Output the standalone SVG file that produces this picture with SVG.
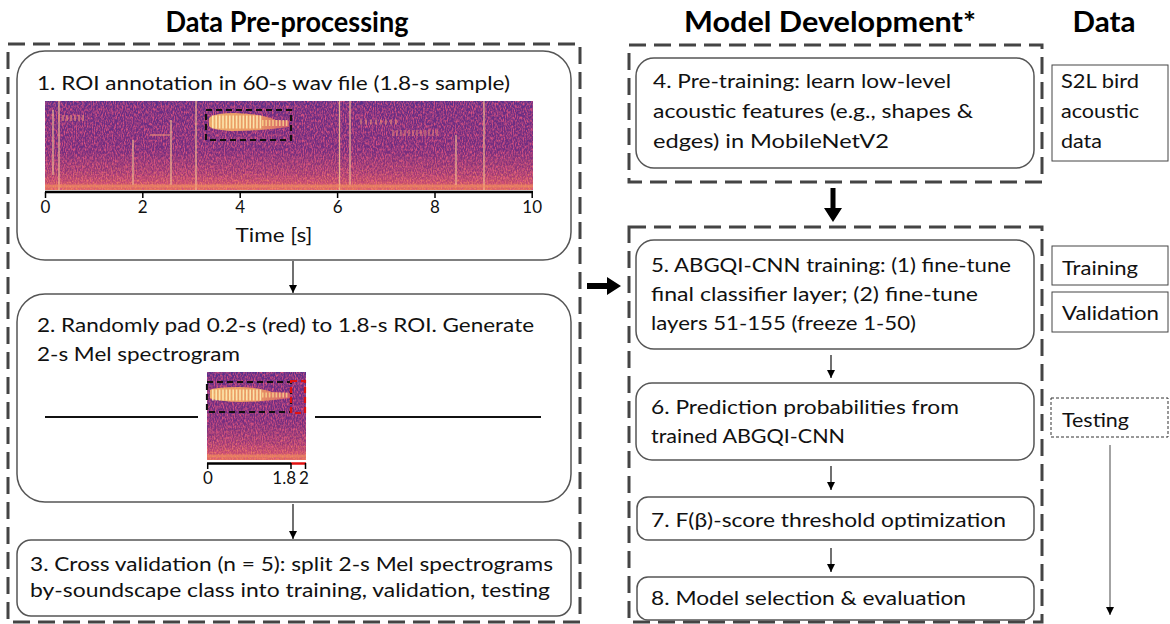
<svg xmlns="http://www.w3.org/2000/svg" width="1170" height="624" viewBox="0 0 1170 624">
<defs>
<style>
.t{font-family:"Lato","Open Sans","Liberation Sans",sans-serif;font-size:19.5px;fill:#111}
.h{font-family:"Lato","Open Sans","Liberation Sans",sans-serif;font-size:28px;font-weight:bold;fill:#000}
.tk{font-family:"Lato","Open Sans","Liberation Sans",sans-serif;font-size:17px;fill:#111}
.dash{fill:none;stroke:#444;stroke-width:3;stroke-dasharray:17 8}
.box{fill:#fff;stroke:#555;stroke-width:1.5}
.dbox{fill:#fff;stroke:#444;stroke-width:1}
.ln{stroke:#111;stroke-width:1.2;fill:none}
.roi{fill:none;stroke:#111;stroke-width:2.2;stroke-dasharray:6 4}
.roir{fill:none;stroke:#e01010;stroke-width:2.2;stroke-dasharray:6 4}
.vl{stroke:#f6c490;stroke-width:1.3;opacity:.85}
</style>
<marker id="ah" viewBox="0 0 10 10" refX="10" refY="5" markerWidth="8" markerHeight="8" markerUnits="userSpaceOnUse" orient="auto">
<path d="M0,0 L10,5 L0,10 z" fill="#000"/>
</marker>
<linearGradient id="spg" x1="0" y1="0" x2="0" y2="1">
<stop offset="0" stop-color="#55308c"/>
<stop offset="0.08" stop-color="#682e84"/>
<stop offset="0.55" stop-color="#722e80"/>
<stop offset="0.8" stop-color="#923578"/>
<stop offset="0.92" stop-color="#bc486c"/>
<stop offset="1" stop-color="#e8785a"/>
</linearGradient>
<linearGradient id="lowfade" x1="0" y1="0" x2="0" y2="1">
<stop offset="0" stop-color="#fff" stop-opacity="0"/>
<stop offset="0.55" stop-color="#fff" stop-opacity="0"/>
<stop offset="1" stop-color="#fff" stop-opacity="1"/>
</linearGradient>
<mask id="lowmask" maskContentUnits="objectBoundingBox">
<rect x="0" y="0" width="1" height="1" fill="url(#lowfade)"/>
</mask>
<linearGradient id="blob" x1="0" y1="0" x2="1" y2="0">
<stop offset="0" stop-color="#f8b868"/>
<stop offset="0.6" stop-color="#f3a060"/>
<stop offset="1" stop-color="#d8606a"/>
</linearGradient>
<filter id="noise" x="0" y="0" width="100%" height="100%" color-interpolation-filters="sRGB">
<feTurbulence type="fractalNoise" baseFrequency="0.9 0.35" numOctaves="2" seed="4" result="n"/>
<feColorMatrix in="n" type="matrix" values="0 0 0 0 0.84  0 0 0 0 0.32  0 0 0 0 0.5  0 0 0 2.6 -1.0" result="c"/>
<feComposite in="c" in2="SourceGraphic" operator="in"/>
</filter>
<filter id="noise2" x="0" y="0" width="100%" height="100%" color-interpolation-filters="sRGB">
<feTurbulence type="fractalNoise" baseFrequency="0.8 0.5" numOctaves="2" seed="9" result="n"/>
<feColorMatrix in="n" type="matrix" values="0 0 0 0 0.96  0 0 0 0 0.5  0 0 0 0 0.4  0 0 0 3 -1.3" result="c"/>
<feComposite in="c" in2="SourceGraphic" operator="in"/>
</filter>
</defs>

<g id="titles">
<text class="h" x="287" y="32" text-anchor="middle" textLength="243" lengthAdjust="spacingAndGlyphs">Data Pre-processing</text>
<text class="h" x="830" y="32" text-anchor="middle" textLength="292" lengthAdjust="spacingAndGlyphs">Model Development*</text>
<text class="h" x="1104" y="32" text-anchor="middle" textLength="63" lengthAdjust="spacingAndGlyphs">Data</text>
</g>

<g id="groups">
<rect class="dash" x="8" y="44" width="572" height="578"/>
<rect class="dash" x="629" y="45" width="413" height="137"/>
<rect class="dash" x="629" y="227" width="413" height="395"/>
</g>

<g id="step1">
<rect class="box" x="17" y="51" width="554" height="209" rx="28"/>
<text class="t" x="37" y="90" textLength="473" lengthAdjust="spacingAndGlyphs">1. ROI annotation in 60-s wav file (1.8-s sample)</text>
<rect x="45" y="101" width="488" height="89" fill="url(#spg)"/>
<rect x="45" y="101" width="488" height="89" fill="#fff" filter="url(#noise)"/>
<g mask="url(#lowmask)"><rect x="45" y="101" width="488" height="89" fill="#fff" filter="url(#noise2)"/></g>
<g>
<line class="vl" x1="59" y1="101" x2="59" y2="190"/>
<line class="vl" x1="53" y1="110" x2="53" y2="175" opacity=".5"/>
<line class="vl" x1="196" y1="101" x2="196" y2="190"/>
<line class="vl" x1="133" y1="140" x2="133" y2="185" opacity=".4"/>
<line class="vl" x1="171" y1="120" x2="171" y2="185" opacity=".4"/>
<line class="vl" x1="339.5" y1="101" x2="339.5" y2="190" stroke-width="1.8"/>
<line class="vl" x1="350" y1="101" x2="350" y2="185"/>
<line class="vl" x1="484" y1="101" x2="484" y2="190"/>
<line class="vl" x1="456" y1="135" x2="456" y2="185" opacity=".4"/>
<line x1="58" y1="118" x2="85" y2="118" stroke="#e88a78" stroke-width="6" stroke-dasharray="2 2" opacity=".6"/>
<line x1="360" y1="122" x2="400" y2="122" stroke="#e88a78" stroke-width="5" stroke-dasharray="2 3" opacity=".6"/>
<line x1="392" y1="133" x2="440" y2="133" stroke="#e88a78" stroke-width="6" stroke-dasharray="2 2" opacity=".5"/>
<line x1="150" y1="135" x2="170" y2="135" stroke="#e88a78" stroke-width="2" opacity=".6"/>
<line x1="45" y1="186" x2="533" y2="186" stroke="#f09060" stroke-width="3" opacity=".6"/>
<path d="M209,118 Q214,113 235,113 Q262,114 276,120 L289,121 L289,127 Q260,131 232,131 Q212,130 209,126 z" fill="url(#blob)" opacity=".9"/>
<line x1="212" y1="122" x2="262" y2="122" stroke="#fff0b8" stroke-width="13" stroke-dasharray="1.6 1.8" opacity=".85"/>
<line x1="262" y1="123" x2="288" y2="123" stroke="#fbd890" stroke-width="6" stroke-dasharray="1.6 1.8" opacity=".8"/>
</g>
<rect class="roi" x="206" y="110" width="85" height="30"/>
<line x1="45" y1="192" x2="533" y2="192" stroke="#000" stroke-width="2.5"/>
<g stroke="#000" stroke-width="1.5">
<line x1="45.5" y1="192" x2="45.5" y2="198"/>
<line x1="142.8" y1="192" x2="142.8" y2="198"/>
<line x1="240.2" y1="192" x2="240.2" y2="198"/>
<line x1="337.6" y1="192" x2="337.6" y2="198"/>
<line x1="435" y1="192" x2="435" y2="198"/>
<line x1="532.2" y1="192" x2="532.2" y2="198"/>
</g>
<text class="tk" x="45.5" y="213" text-anchor="middle">0</text>
<text class="tk" x="142.8" y="213" text-anchor="middle">2</text>
<text class="tk" x="240.2" y="213" text-anchor="middle">4</text>
<text class="tk" x="337.6" y="213" text-anchor="middle">6</text>
<text class="tk" x="435" y="213" text-anchor="middle">8</text>
<text class="tk" x="532.2" y="213" text-anchor="middle">10</text>
<text class="t" x="274" y="242" text-anchor="middle" textLength="77" lengthAdjust="spacingAndGlyphs">Time [s]</text>
</g>

<g id="step2">
<rect class="box" x="17" y="294" width="554" height="208" rx="28"/>
<text class="t" x="37" y="332" textLength="497" lengthAdjust="spacingAndGlyphs">2. Randomly pad 0.2-s (red) to 1.8-s ROI. Generate</text>
<text class="t" x="37" y="361" textLength="203" lengthAdjust="spacingAndGlyphs">2-s Mel spectrogram</text>
<line x1="45" y1="417" x2="198" y2="417" stroke="#111" stroke-width="2"/>
<line x1="315" y1="417" x2="541" y2="417" stroke="#111" stroke-width="2"/>
<rect x="207" y="372" width="99" height="88" fill="url(#spg)"/>
<rect x="207" y="372" width="99" height="88" fill="#fff" filter="url(#noise)"/>
<g mask="url(#lowmask)"><rect x="207" y="372" width="99" height="88" fill="#fff" filter="url(#noise2)"/></g>
<path d="M210,390 Q215,387 240,387 Q262,388 272,392 L290,393 L290,398 Q262,402 240,402 Q215,401 210,398 z" fill="url(#blob)" opacity=".9"/>
<line x1="212" y1="395" x2="262" y2="395" stroke="#fff0b8" stroke-width="11" stroke-dasharray="1.6 1.8" opacity=".85"/>
<line x1="262" y1="395" x2="288" y2="395" stroke="#fbd890" stroke-width="5" stroke-dasharray="1.6 1.8" opacity=".8"/>
<line x1="207" y1="456" x2="306" y2="456" stroke="#f09060" stroke-width="3" opacity=".6"/>
<rect class="roi" x="207" y="382" width="84" height="30"/>
<rect class="roir" x="291" y="381" width="14" height="32"/>
<line x1="207" y1="463.5" x2="291" y2="463.5" stroke="#000" stroke-width="2.5"/>
<line x1="291" y1="463.5" x2="306" y2="463.5" stroke="#e01010" stroke-width="2.5"/>
<g stroke="#000" stroke-width="1.5">
<line x1="207.7" y1="463" x2="207.7" y2="469"/>
<line x1="291" y1="463" x2="291" y2="469"/>
<line x1="305.5" y1="463" x2="305.5" y2="469"/>
</g>
<text class="tk" x="208" y="484" text-anchor="middle" font-size="15">0</text>
<text class="tk" x="296" y="484" text-anchor="end" font-size="15">1.8</text>
<text class="tk" x="299" y="484" font-size="15">2</text>
</g>

<g id="step3">
<rect class="box" x="17" y="540" width="554" height="76" rx="14"/>
<text class="t" x="30" y="571" textLength="523" lengthAdjust="spacingAndGlyphs">3. Cross validation (n = 5): split 2-s Mel spectrograms</text>
<text class="t" x="30" y="597" textLength="520" lengthAdjust="spacingAndGlyphs">by-soundscape class into training, validation, testing</text>
</g>

<g id="step4">
<rect class="box" x="636" y="58" width="398" height="110" rx="18"/>
<text class="t" x="653" y="88" textLength="298" lengthAdjust="spacingAndGlyphs">4. Pre-training: learn low-level</text>
<text class="t" x="653" y="118" textLength="320" lengthAdjust="spacingAndGlyphs">acoustic features (e.g., shapes &amp;</text>
<text class="t" x="653" y="148" textLength="236" lengthAdjust="spacingAndGlyphs">edges) in MobileNetV2</text>
</g>

<g id="step5">
<rect class="box" x="636" y="240" width="398" height="109" rx="18"/>
<text class="t" x="651" y="272" textLength="360" lengthAdjust="spacingAndGlyphs">5. ABGQI-CNN training: (1) fine-tune</text>
<text class="t" x="651" y="301" textLength="327" lengthAdjust="spacingAndGlyphs">final classifier layer; (2) fine-tune</text>
<text class="t" x="651" y="330" textLength="265" lengthAdjust="spacingAndGlyphs">layers 51-155 (freeze 1-50)</text>
</g>

<g id="step6">
<rect class="box" x="636" y="383" width="398" height="77" rx="16"/>
<text class="t" x="651" y="414" textLength="308" lengthAdjust="spacingAndGlyphs">6. Prediction probabilities from</text>
<text class="t" x="651" y="443" textLength="194" lengthAdjust="spacingAndGlyphs">trained ABGQI-CNN</text>
</g>

<g id="step7">
<rect class="box" x="637" y="497" width="397" height="43" rx="11"/>
<text class="t" x="651" y="527" textLength="355" lengthAdjust="spacingAndGlyphs">7. F(β)-score threshold optimization</text>
</g>

<g id="step8">
<rect class="box" x="637" y="577" width="397" height="43" rx="11"/>
<text class="t" x="651" y="605" textLength="315" lengthAdjust="spacingAndGlyphs">8. Model selection &amp; evaluation</text>
</g>

<g id="data-s2l">
<rect class="dbox" x="1052" y="65" width="116" height="96"/>
<text class="t" x="1061" y="88" textLength="78" lengthAdjust="spacingAndGlyphs">S2L bird</text>
<text class="t" x="1061" y="118" textLength="78" lengthAdjust="spacingAndGlyphs">acoustic</text>
<text class="t" x="1061" y="148" textLength="41" lengthAdjust="spacingAndGlyphs">data</text>
</g>
<g id="data-training">
<rect class="dbox" x="1052" y="246" width="116" height="39"/>
<text class="t" x="1062" y="275" textLength="76" lengthAdjust="spacingAndGlyphs">Training</text>
</g>
<g id="data-validation">
<rect class="dbox" x="1052" y="292" width="116" height="40"/>
<text class="t" x="1062" y="320" textLength="97" lengthAdjust="spacingAndGlyphs">Validation</text>
</g>
<g id="data-testing">
<rect x="1051" y="398" width="117" height="39" fill="#fff" stroke="#333" stroke-width="1" stroke-dasharray="3 2"/>
<text class="t" x="1062" y="427" textLength="67" lengthAdjust="spacingAndGlyphs">Testing</text>
</g>

<g id="connectors">
<line class="ln" x1="293" y1="261" x2="293" y2="293" marker-end="url(#ah)"/>
<line class="ln" x1="293" y1="504" x2="293" y2="539" marker-end="url(#ah)"/>
<line class="ln" x1="831" y1="355" x2="831" y2="378" marker-end="url(#ah)"/>
<line class="ln" x1="831" y1="466" x2="831" y2="490" marker-end="url(#ah)"/>
<line class="ln" x1="831" y1="548" x2="831" y2="572" marker-end="url(#ah)"/>
<line x1="1110" y1="445" x2="1110" y2="615" stroke="#666" stroke-width="1.2" marker-end="url(#ah)"/>
<path d="M830.5,188 L835.5,188 L835.5,208 L842,208 L833,222 L824,208 L830.5,208 z" fill="#000"/>
<path d="M587,283 L607,283 L607,277 L621,286 L607,295 L607,289 L587,289 z" fill="#000"/>
</g>
</svg>
